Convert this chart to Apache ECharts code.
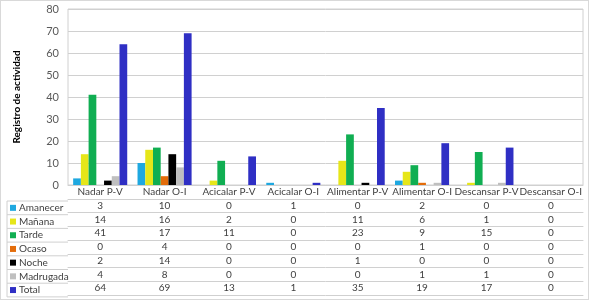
<!DOCTYPE html>
<html>
<head>
<meta charset="utf-8">
<script src="https://cdn.jsdelivr.net/npm/echarts@6/dist/echarts.min.js"></script>
<style>
  html, body { margin: 0; padding: 0; background: #fff; }
  #chart { width: 589px; height: 300px; box-sizing: border-box; border: 1px solid #d9d9d9; }
</style>
</head>
<body>
<div id="chart"></div>
<script>
const categories = ["Nadar P-V", "Nadar O-I", "Acicalar P-V", "Acicalar O-I", "Alimentar P-V", "Alimentar O-I", "Descansar P-V", "Descansar O-I"];
const seriesNames = ["Amanecer", "Mañana", "Tarde", "Ocaso", "Noche", "Madrugada", "Total"];
const amanecer = [3, 10, 0, 1, 0, 2, 0, 0];
const manana = [14, 16, 2, 0, 11, 6, 1, 0];
const tarde = [41, 17, 11, 0, 23, 9, 15, 0];
const ocaso = [0, 4, 0, 0, 0, 1, 0, 0];
const noche = [2, 14, 0, 0, 1, 0, 0, 0];
const madrugada = [4, 8, 0, 0, 0, 1, 1, 0];
const total = [64, 69, 13, 1, 35, 19, 17, 0];
const seriesValues = [amanecer, manana, tarde, ocaso, noche, madrugada, total];
const colors = ["#1fa8e0", "#e6e619", "#10ae52", "#e36c0a", "#000000", "#bfbfbf", "#2f2fc4"];

const font = "Lato";
const lineColor = "#d0d0d0";
const textColor = "#404040";
const gridLeft = 67, gridRight = 5, gridTop = 8, gridBottom = 114;
const headerH = 14, rowH = 13.7;
const tableTop = 300 - gridBottom + headerH; // y of first value row line
const tableLeft = 6;

const chart = echarts.init(document.getElementById("chart"));

// header axis + one axis per table row
const xAxes = [{
  type: "category",
  data: categories,
  axisLine: { lineStyle: { color: lineColor } },
  axisTick: { interval: 0, length: headerH, lineStyle: { color: lineColor } },
  axisLabel: { interval: 0, margin: headerH / 2, verticalAlign: "middle", color: textColor, fontFamily: font, fontSize: 10 },
}];
seriesValues.forEach((vals, i) => {
  xAxes.push({
    type: "category",
    data: categories,
    position: "bottom",
    offset: headerH + rowH * i,
    axisLine: { lineStyle: { color: lineColor } },
    axisTick: { interval: 0, length: rowH, lineStyle: { color: lineColor } },
    axisLabel: {
      interval: 0, margin: rowH / 2, verticalAlign: "middle",
      color: textColor, fontFamily: font, fontSize: 10,
      formatter: (v, idx) => String(vals[idx]),
    },
  });
});
xAxes.push({
  type: "category",
  data: categories,
  position: "bottom",
  offset: headerH + rowH * seriesValues.length,
  axisLine: { lineStyle: { color: lineColor } },
  axisTick: { show: false },
  axisLabel: { show: false },
});

// left column borders of the data table
const graphic = [];
for (let k = 0; k <= seriesNames.length; k++) {
  graphic.push({
    type: "line",
    shape: { x1: tableLeft, y1: tableTop + rowH * k, x2: gridLeft, y2: tableTop + rowH * k },
    style: { stroke: lineColor, lineWidth: 1 },
  });
}
graphic.push({
  type: "line",
  shape: { x1: tableLeft, y1: tableTop, x2: tableLeft, y2: tableTop + rowH * seriesNames.length },
  style: { stroke: lineColor, lineWidth: 1 },
});

const option = {
  animation: false,
  color: colors,
  grid: {
    left: gridLeft, right: gridRight, top: gridTop, bottom: gridBottom,
    show: true, borderColor: lineColor, borderWidth: 1,
  },
  legend: {
    orient: "vertical",
    left: tableLeft + 3,
    top: tableTop,
    padding: 0,
    itemGap: 0,
    itemWidth: 6,
    itemHeight: 6,
    icon: "rect",
    selectedMode: false,
    data: seriesNames,
    textStyle: { color: textColor, fontFamily: font, fontSize: 10, lineHeight: rowH, padding: [0, 0, 0, -2] },
  },
  xAxis: xAxes,
  yAxis: {
    type: "value",
    min: 0, max: 80, interval: 10,
    name: "Registro de actividad",
    nameLocation: "middle",
    nameRotate: 90,
    nameGap: 46,
    nameTextStyle: { color: "#000", fontFamily: font, fontSize: 10, fontWeight: "bold" },
    axisLine: { show: false },
    axisTick: { show: false },
    axisLabel: { color: "#595959", fontFamily: font, fontSize: 11, margin: 9 },
    splitLine: { lineStyle: { color: lineColor } },
  },
  graphic: graphic,
  series: seriesNames.map((name, i) => ({
    name: name,
    type: "bar",
    xAxisIndex: 0,
    data: seriesValues[i],
    barGap: "0%",
    barCategoryGap: "16%",
  })),
};
chart.setOption(option);
</script>
</body>
</html>
